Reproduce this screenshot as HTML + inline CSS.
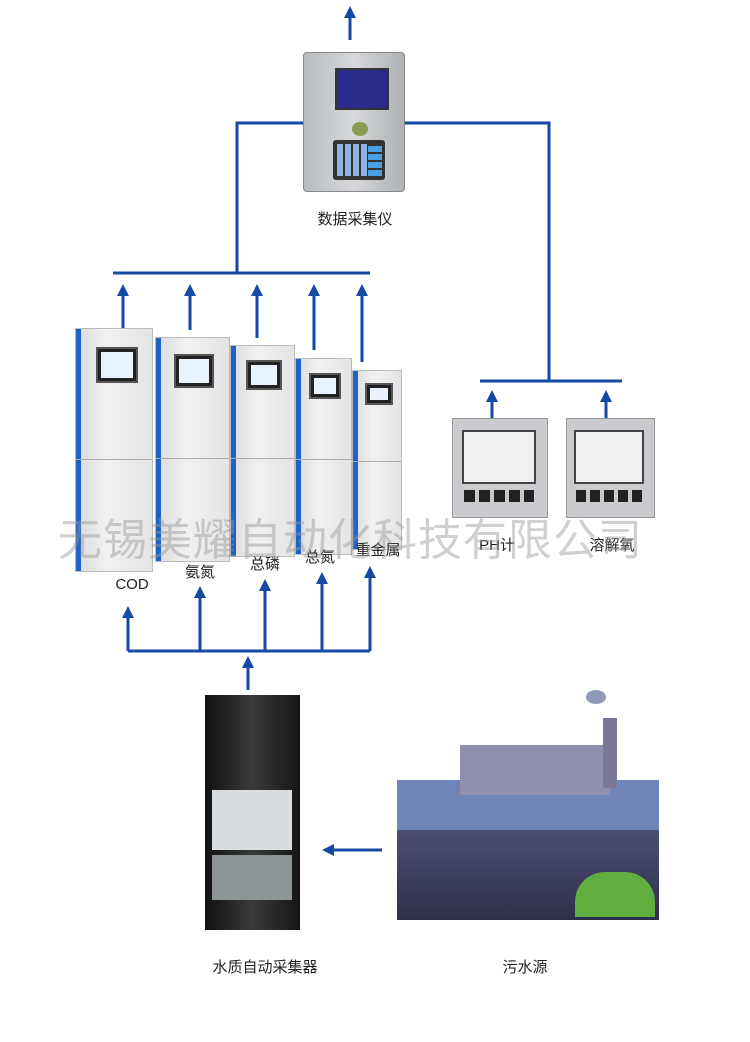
<!DOCTYPE html>
<html><head><meta charset="utf-8"><style>
body{margin:0;background:#fff;}
#c{position:relative;width:750px;height:1042px;overflow:hidden;font-family:"Liberation Sans","Noto Sans CJK SC",sans-serif;}
.a{position:absolute;}
.lbl{position:absolute;font-size:15px;color:#222;transform:translateX(-50%);white-space:nowrap;}
.cab{position:absolute;background:linear-gradient(90deg,#d9dadc,#f1f1f1 40%,#e4e4e6);border:1px solid #bbb;box-sizing:border-box;}
.cab .blue{position:absolute;left:0;top:0;bottom:0;width:5px;background:#1d63c9;}
.cab .scr{position:absolute;background:#222;border:2px solid #555;}
.cab .scr i{position:absolute;left:3px;right:3px;top:3px;bottom:3px;background:#e9f3ff;}
.cab .mid{position:absolute;left:0;right:0;height:1px;background:#aaa;}
</style></head><body><div id="c">
<svg class="a" style="left:0;top:0" width="750" height="1042">
<defs><marker id="ar" markerWidth="4" markerHeight="4" refX="2" refY="2" orient="auto" markerUnits="strokeWidth"><path d="M0,0 L4,2 L0,4 z" fill="#1549a3"/></marker></defs>
<g stroke="#1549a3" stroke-width="3" fill="none">
<line x1="350" y1="40" x2="350" y2="12" marker-end="url(#ar)"/>
<polyline points="303,123 237,123 237,273"/>
<line x1="113" y1="273" x2="370" y2="273"/>
<polyline points="405,123 549,123 549,381"/>
<line x1="480" y1="381" x2="622" y2="381"/>
<line x1="123" y1="330" x2="123" y2="290" marker-end="url(#ar)"/>
<line x1="190" y1="330" x2="190" y2="290" marker-end="url(#ar)"/>
<line x1="257" y1="338" x2="257" y2="290" marker-end="url(#ar)"/>
<line x1="314" y1="350" x2="314" y2="290" marker-end="url(#ar)"/>
<line x1="362" y1="362" x2="362" y2="290" marker-end="url(#ar)"/>
<line x1="492" y1="425" x2="492" y2="396" marker-end="url(#ar)"/>
<line x1="606" y1="425" x2="606" y2="396" marker-end="url(#ar)"/>
<line x1="128" y1="651" x2="370" y2="651"/>
<line x1="128" y1="651" x2="128" y2="612" marker-end="url(#ar)"/>
<line x1="200" y1="651" x2="200" y2="592" marker-end="url(#ar)"/>
<line x1="265" y1="651" x2="265" y2="585" marker-end="url(#ar)"/>
<line x1="322" y1="651" x2="322" y2="578" marker-end="url(#ar)"/>
<line x1="370" y1="651" x2="370" y2="572" marker-end="url(#ar)"/>
<line x1="248" y1="690" x2="248" y2="662" marker-end="url(#ar)"/>
<line x1="382" y1="850" x2="328" y2="850" marker-end="url(#ar)"/>
</g></svg>
<!-- data logger -->
<div class="a" style="left:303px;top:52px;width:102px;height:140px;background:linear-gradient(90deg,#b9bcc0,#d6d8db 50%,#aeb1b5);border-radius:4px;border:1px solid #888;box-sizing:border-box"></div>
<div class="a" style="left:335px;top:68px;width:50px;height:38px;background:#2c2a8a;border:2px solid #333"></div>
<div class="a" style="left:352px;top:122px;width:16px;height:14px;border-radius:50%;background:#8a9a50"></div>
<div class="a" style="left:333px;top:140px;width:52px;height:40px;background:#333;border-radius:3px"></div>
<div class="a" style="left:337px;top:144px;width:30px;height:32px;background:repeating-linear-gradient(90deg,#8fb4e0 0 6px,#333 6px 8px)"></div>
<div class="a" style="left:368px;top:144px;width:14px;height:32px;background:repeating-linear-gradient(0deg,#4aa0e0 0 6px,#333 6px 8px)"></div>
<div class="lbl" style="left:355px;top:208px">数据采集仪</div>
<!-- analyzers -->
<div class="cab" style="left:75px;top:328px;width:78px;height:244px"><div class="blue"></div><div class="scr" style="left:20px;top:18px;width:38px;height:32px"><i></i></div><div class="mid" style="top:130px"></div></div>
<div class="cab" style="left:155px;top:337px;width:75px;height:225px"><div class="blue"></div><div class="scr" style="left:18px;top:16px;width:36px;height:30px"><i></i></div><div class="mid" style="top:120px"></div></div>
<div class="cab" style="left:230px;top:345px;width:65px;height:212px"><div class="blue"></div><div class="scr" style="left:15px;top:14px;width:32px;height:26px"><i></i></div><div class="mid" style="top:112px"></div></div>
<div class="cab" style="left:295px;top:358px;width:57px;height:197px"><div class="blue"></div><div class="scr" style="left:13px;top:14px;width:28px;height:22px"><i></i></div><div class="mid" style="top:100px"></div></div>
<div class="cab" style="left:352px;top:370px;width:50px;height:180px"><div class="blue"></div><div class="scr" style="left:12px;top:12px;width:24px;height:18px"><i></i></div><div class="mid" style="top:90px"></div></div>
<div class="lbl" style="left:132px;top:576px">COD</div>
<div class="lbl" style="left:200px;top:561px">氨氮</div>
<div class="lbl" style="left:265px;top:553px">总磷</div>
<div class="lbl" style="left:320px;top:546px">总氮</div>
<div class="lbl" style="left:378px;top:539px">重金属</div>
<!-- meters -->
<div class="a" style="left:452px;top:418px;width:96px;height:100px;background:#c9cbcf;border:1px solid #999;box-sizing:border-box"></div>
<div class="a" style="left:462px;top:430px;width:70px;height:50px;background:#f0f0f0;border:2px solid #444"></div>
<div class="a" style="left:464px;top:490px;width:70px;height:12px;background:repeating-linear-gradient(90deg,#222 0 11px,#c9cbcf 11px 15px)"></div>
<div class="a" style="left:566px;top:418px;width:89px;height:100px;background:#c9cbcf;border:1px solid #999;box-sizing:border-box"></div>
<div class="a" style="left:574px;top:430px;width:66px;height:50px;background:#f0f0f0;border:2px solid #444"></div>
<div class="a" style="left:576px;top:490px;width:66px;height:12px;background:repeating-linear-gradient(90deg,#222 0 10px,#c9cbcf 10px 14px)"></div>
<div class="lbl" style="left:497px;top:534px">PH计</div>
<div class="lbl" style="left:612px;top:534px">溶解氧</div>
<!-- watermark -->
<div class="a" style="left:58px;top:504px;font-size:44px;color:rgba(150,150,150,0.45);letter-spacing:1px;white-space:nowrap">无锡美耀自动化科技有限公司</div>
<!-- sampler -->
<div class="a" style="left:205px;top:695px;width:95px;height:235px;background:linear-gradient(90deg,#111,#3a3a3a 50%,#151515);"></div>
<div class="a" style="left:212px;top:790px;width:80px;height:60px;background:#d8dde0"></div>
<div class="a" style="left:212px;top:855px;width:80px;height:45px;background:#8e9597"></div>
<!-- pollution -->
<div class="a" style="left:397px;top:780px;width:262px;height:140px;background:#6f85b8"></div>
<div class="a" style="left:397px;top:830px;width:262px;height:90px;background:linear-gradient(#4b4f74,#2e2f4a)"></div>
<div class="a" style="left:460px;top:745px;width:150px;height:50px;background:#8f8fb0"></div>
<div class="a" style="left:603px;top:718px;width:14px;height:70px;background:#7b7798"></div>
<div class="a" style="left:586px;top:690px;width:20px;height:14px;border-radius:50%;background:#8f99b8"></div>
<div class="a" style="left:575px;top:872px;width:80px;height:45px;border-radius:30px 30px 0 0;background:#5fae3f"></div>
<div class="lbl" style="left:265px;top:956px">水质自动采集器</div>
<div class="lbl" style="left:525px;top:956px">污水源</div>
</div></body></html>
